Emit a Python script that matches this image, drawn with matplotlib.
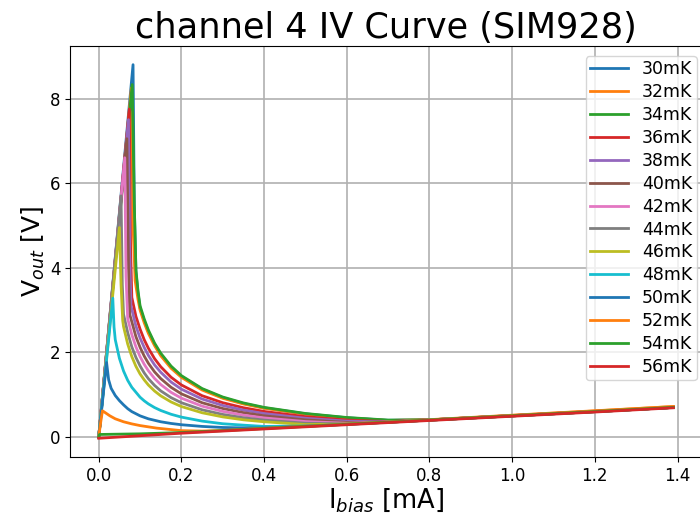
import matplotlib
matplotlib.use("Agg")
import matplotlib.pyplot as plt

# bath temperatures (mK)
temps = [30, 32, 34, 36, 38, 40, 42, 44, 46, 48, 50, 52, 54, 56]

# I_bias [mA] / V_out [V], one pair per temperature
i_30 = [0, 0.083, 0.086, 0.09, 0.095, 0.1, 0.11, 0.12, 0.135, 0.15, 0.175, 0.2, 0.25, 0.3, 0.35, 0.4, 0.5, 0.6, 0.7, 0.8, 1.0, 1.2, 1.39]
v_30 = [0, 8.8, 5.5, 3.9, 3.4, 3.05, 2.75, 2.49, 2.19, 1.95, 1.65, 1.43, 1.13, 0.93, 0.793, 0.69, 0.548, 0.455, 0.395, 0.405, 0.505, 0.605, 0.70]

i_32 = [0, 0.079, 0.083, 0.088, 0.095, 0.1, 0.11, 0.12, 0.135, 0.15, 0.175, 0.2, 0.25, 0.3, 0.35, 0.4, 0.5, 0.6, 0.7, 0.8, 1.0, 1.2, 1.39]
v_32 = [0, 8.25, 5.0, 3.7, 3.25, 3.0, 2.70, 2.45, 2.16, 1.92, 1.625, 1.41, 1.11, 0.915, 0.78, 0.68, 0.54, 0.447, 0.39, 0.41, 0.515, 0.62, 0.72]

i_34 = [0, 0.081, 0.086, 0.09, 0.095, 0.1, 0.11, 0.12, 0.135, 0.15, 0.175, 0.2, 0.25, 0.3, 0.35, 0.4, 0.5, 0.6, 0.7, 0.8, 1.0, 1.2, 1.39]
v_34 = [0, 8.33, 5.5, 3.95, 3.45, 3.1, 2.79, 2.53, 2.22, 1.98, 1.675, 1.45, 1.145, 0.945, 0.805, 0.70, 0.556, 0.461, 0.40, 0.405, 0.505, 0.605, 0.70]

i_36 = [0, 0.074, 0.077, 0.08, 0.09, 0.1, 0.11, 0.12, 0.135, 0.15, 0.175, 0.2, 0.25, 0.3, 0.35, 0.4, 0.5, 0.6, 0.7, 0.8, 1.0, 1.2, 1.39]
v_36 = [0, 7.75, 4.5, 3.3, 2.85, 2.55, 2.30, 2.10, 1.853, 1.66, 1.412, 1.23, 0.976, 0.81, 0.692, 0.604, 0.481, 0.40, 0.365, 0.405, 0.505, 0.605, 0.70]

i_38 = [0, 0.072, 0.075, 0.078, 0.09, 0.1, 0.11, 0.12, 0.135, 0.15, 0.175, 0.2, 0.25, 0.3, 0.35, 0.4, 0.5, 0.6, 0.7, 0.8, 1.0, 1.2, 1.39]
v_38 = [0, 7.5, 4.3, 3.1, 2.62, 2.34, 2.117, 1.93, 1.705, 1.53, 1.299, 1.13, 0.898, 0.745, 0.636, 0.555, 0.443, 0.375, 0.36, 0.405, 0.505, 0.605, 0.70]

i_40 = [0, 0.068, 0.072, 0.075, 0.09, 0.1, 0.11, 0.12, 0.135, 0.15, 0.175, 0.2, 0.25, 0.3, 0.35, 0.4, 0.5, 0.6, 0.7, 0.8, 1.0, 1.2, 1.39]
v_40 = [0, 7.05, 4.0, 2.9, 2.37, 2.12, 1.913, 1.744, 1.54, 1.38, 1.174, 1.02, 0.81, 0.673, 0.575, 0.502, 0.405, 0.345, 0.355, 0.40, 0.50, 0.60, 0.70]

i_42 = [0, 0.063, 0.066, 0.07, 0.08, 0.09, 0.1, 0.11, 0.12, 0.135, 0.15, 0.175, 0.2, 0.25, 0.3, 0.35, 0.4, 0.5, 0.6, 0.7, 0.8, 1.0, 1.2, 1.39]
v_42 = [0, 6.6, 3.8, 2.8, 2.42, 2.13, 1.90, 1.719, 1.567, 1.384, 1.24, 1.055, 0.918, 0.729, 0.605, 0.516, 0.451, 0.365, 0.325, 0.352, 0.40, 0.50, 0.60, 0.70]

i_44 = [0, 0.054, 0.057, 0.06, 0.07, 0.08, 0.09, 0.1, 0.11, 0.12, 0.135, 0.15, 0.175, 0.2, 0.25, 0.3, 0.35, 0.4, 0.5, 0.6, 0.7, 0.8, 1.0, 1.2, 1.39]
v_44 = [0, 5.7, 3.6, 2.9, 2.47, 2.13, 1.88, 1.68, 1.515, 1.38, 1.22, 1.09, 0.93, 0.81, 0.643, 0.533, 0.455, 0.40, 0.325, 0.31, 0.35, 0.40, 0.50, 0.60, 0.70]

i_46 = [0, 0.05, 0.054, 0.058, 0.06, 0.07, 0.08, 0.09, 0.1, 0.11, 0.12, 0.135, 0.15, 0.175, 0.2, 0.25, 0.3, 0.35, 0.4, 0.5, 0.6, 0.7, 0.8, 1.0, 1.2, 1.39]
v_46 = [0, 4.95, 3.6, 2.75, 2.61, 2.2, 1.9, 1.67, 1.49, 1.35, 1.23, 1.087, 0.973, 0.828, 0.72, 0.573, 0.475, 0.406, 0.36, 0.295, 0.305, 0.35, 0.40, 0.50, 0.60, 0.70]

i_48 = [0, 0.034, 0.037, 0.04, 0.05, 0.06, 0.07, 0.08, 0.1, 0.11, 0.12, 0.135, 0.15, 0.175, 0.2, 0.25, 0.3, 0.35, 0.4, 0.5, 0.6, 0.7, 0.8, 1.0, 1.2, 1.39]
v_48 = [0, 3.28, 2.6, 2.3, 1.86, 1.56, 1.34, 1.175, 0.94, 0.855, 0.783, 0.696, 0.627, 0.537, 0.47, 0.376, 0.313, 0.28, 0.25, 0.26, 0.30, 0.35, 0.40, 0.50, 0.60, 0.70]

i_50 = [0, 0.019, 0.024, 0.03, 0.04, 0.05, 0.06, 0.07, 0.08, 0.1, 0.11, 0.12, 0.135, 0.15, 0.175, 0.2, 0.25, 0.3, 0.35, 0.4, 0.5, 0.6, 0.7, 0.8, 1.0, 1.2, 1.39]
v_50 = [0, 1.76, 1.35, 1.15, 0.98, 0.86, 0.76, 0.67, 0.60, 0.50, 0.465, 0.43, 0.395, 0.36, 0.32, 0.29, 0.25, 0.225, 0.215, 0.215, 0.255, 0.30, 0.35, 0.40, 0.50, 0.60, 0.70]

i_52 = [0, 0.004, 0.009, 0.015, 0.027, 0.04, 0.06, 0.08, 0.1, 0.14, 0.2, 0.25, 0.3, 0.4, 0.5, 0.6, 0.7, 0.8, 1.0, 1.2, 1.39]
v_52 = [0, 0.3, 0.62, 0.58, 0.5, 0.43, 0.36, 0.31, 0.27, 0.21, 0.15, 0.14, 0.155, 0.205, 0.255, 0.305, 0.355, 0.405, 0.51, 0.615, 0.72]

i_54 = [0, 0.002, 0.1, 0.2, 0.3, 0.4, 0.6, 0.8, 1.0, 1.2, 1.39]
v_54 = [0, 0.06, 0.075, 0.105, 0.15, 0.2, 0.30, 0.40, 0.50, 0.60, 0.70]

i_56 = [0, 0.2, 0.4, 0.6, 0.8, 1.0, 1.2, 1.39]
v_56 = [-0.03, 0.09, 0.19, 0.29, 0.39, 0.49, 0.59, 0.69]

ibias = [i_30, i_32, i_34, i_36, i_38, i_40, i_42, i_44, i_46, i_48, i_50, i_52, i_54, i_56]
vout = [v_30, v_32, v_34, v_36, v_38, v_40, v_42, v_44, v_46, v_48, v_50, v_52, v_54, v_56]

fig = plt.figure(figsize=(7, 5.14), dpi=100)
ax = fig.add_axes([0.1, 0.111, 0.903, 0.7995])

for t, i, v in zip(temps, ibias, vout):
    ax.plot(i, v, linewidth=2, label=f"{t}mK")

ax.set_title("channel 4 IV Curve (SIM928)", fontsize=25.3)
ax.set_xlabel("I$_{bias}$ [mA]", fontsize=18.5, labelpad=1)
ax.set_ylabel("V$_{out}$ [V]", fontsize=18, labelpad=2)
ax.tick_params(labelsize=12)
ax.grid(True, linewidth=1.2)
ax.legend(loc="upper right", bbox_to_anchor=(1.0, 0.988), fontsize=12.5,
          labelspacing=0.28, handlelength=2.2, borderaxespad=0.3,
          borderpad=0.25)

fig.savefig("out.png", dpi=100)
